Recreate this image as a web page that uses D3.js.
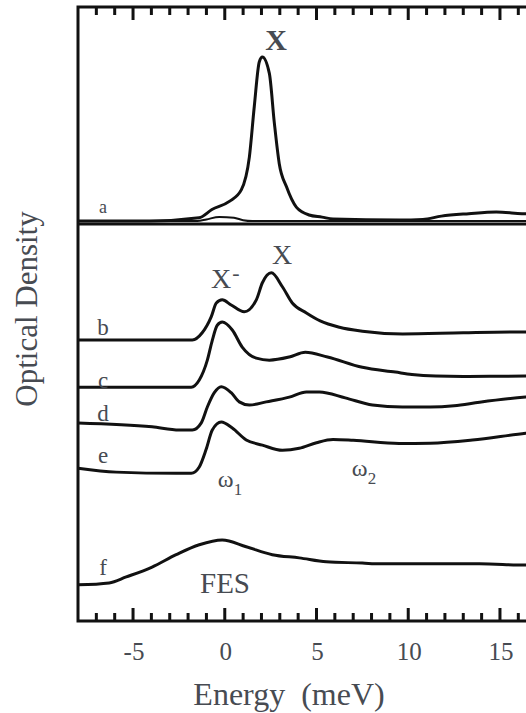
<!DOCTYPE html>
<html>
<head>
<meta charset="utf-8">
<script src="https://cdn.jsdelivr.net/npm/d3@7"></script>
<style>
  body { margin: 0; background: #fff; }
  #chart text { font-family: "Liberation Serif", "DejaVu Serif", serif; fill: #474b52; }
</style>
</head>
<body>
<svg id="chart" width="526" height="713" font-family="Liberation Serif, DejaVu Serif, serif"></svg>
<script>
// energy axis (meV)
var energyTicks = [-5, 0, 5, 10, 15];
var minorTicks = [-7, -6, -4, -3, -2, -1, 1, 2, 3, 4, 6, 7, 8, 9, 11, 12, 13, 14, 16, 17];

// panel a: normalized optical density, [energy, OD]
var specA = [[-8,0],[-4.1,0],[-1.4,0.02],[-0.7,0.07],[0.25,0.12],[0.9,0.19],[1.34,0.39],[1.61,0.70],
  [1.88,0.97],[2.05,1.0],[2.43,0.90],[2.70,0.60],[2.97,0.35],[3.36,0.21],[3.9,0.085],[4.6,0.037],
  [5.3,0.024],[5.9,0.012],[9.5,0.006],[10.8,0.01],[11.8,0.03],[13.3,0.045],[14.8,0.055],[16.2,0.045],[18,0.04]];
// weak reference trace in panel a
var specA2 = [[-8,0],[-1.5,0],[-1.0,0.01],[-0.3,0.025],[0.5,0.02],[1.0,0.005],[1.5,0],[18,0]];

// panels b-f: optical density relative to each trace's own baseline
var specB = [[-8,0],[-1.77,0],[-1.23,0.18],[-0.74,0.58],[-0.46,0.93],[-0.14,1.01],[0.35,0.88],[1.06,0.71],
  [1.72,1.01],[2.05,1.44],[2.54,1.69],[3.14,1.34],[3.68,0.93],[4.45,0.68],[5.2,0.48],[6.25,0.32],
  [7.5,0.22],[9.7,0.15],[13,0.18],[16.4,0.2],[18,0.2]];
var specC = [[-8,0],[-1.83,0],[-1.39,0.18],[-0.95,0.68],[-0.68,1.18],[-0.41,1.56],[-0.14,1.64],[0.41,1.44],
  [0.95,1.01],[1.72,0.73],[2.43,0.68],[3.52,0.76],[4.39,0.88],[5.6,0.76],[7.5,0.50],[9.3,0.38],
  [10.2,0.32],[11.5,0.28],[13,0.27],[16.4,0.28],[18,0.28]];
var specD = [[-8,0],[-3.96,-0.10],[-2.48,-0.18],[-1.77,-0.18],[-1.28,0],[-0.95,0.40],[-0.57,0.76],[-0.19,0.91],
  [0.35,0.76],[0.79,0.53],[1.34,0.45],[2.26,0.53],[3.52,0.65],[4.45,0.78],[5.16,0.78],[6.57,0.63],
  [8.05,0.45],[9.68,0.40],[11.2,0.40],[12.5,0.43],[13.89,0.52],[16.4,0.65],[18,0.7]];
var specE = [[-8,0],[-5.92,-0.10],[-2.65,-0.13],[-1.83,-0.13],[-1.39,0.03],[-1.01,0.48],[-0.68,0.96],[-0.19,1.16],
  [0.41,1.01],[1.17,0.71],[2.05,0.58],[3.14,0.45],[4.06,0.50],[5.0,0.64],[5.9,0.72],[7.0,0.70],[9.5,0.62],
  [11.2,0.63],[13.5,0.71],[16.4,0.88],[18,0.95]];
var specF = [[-8,0],[-6.3,0.05],[-5.37,0.20],[-3.96,0.45],[-2.65,0.76],[-1.39,1.01],[-0.14,1.13],[1.17,0.96],
  [2.59,0.76],[4.06,0.68],[5.54,0.58],[7.5,0.55],[8.43,0.53],[13.89,0.53],[16.4,0.50],[18,0.5]];

var lowerSpectra = [specB, specC, specD, specE, specF];
var lowerOffsets = [7.08, 5.89, 4.99, 3.85, 0.91];
var traceLabels = ["b", "c", "d", "e", "f"];

var svg = d3.select("#chart");

var plotLeft = 78, plotRight = 555, plotTop = 7, plotSplit = 224, plotBottom = 621;

var x = d3.scaleLinear().domain([-8, 18]).range([plotLeft, plotRight]);
var yTop = d3.scaleLinear().domain([-0.018, 1.305]).range([plotSplit, plotTop]);
var yBot = d3.scaleLinear().domain([0, 10]).range([plotBottom, plotSplit]);

var smooth = d3.curveMonotoneX;

// spectra
var lineTop = d3.line().x(function(d){ return x(d[0]); }).y(function(d){ return yTop(d[1]); }).curve(smooth);

svg.append("path").attr("d", lineTop(specA2))
  .attr("fill", "none").attr("stroke", "#111").attr("stroke-width", 2);
svg.append("path").attr("d", lineTop(specA))
  .attr("fill", "none").attr("stroke", "#111").attr("stroke-width", 3);

lowerSpectra.forEach(function(spec, i){
  var off = lowerOffsets[i];
  var line = d3.line().x(function(d){ return x(d[0]); }).y(function(d){ return yBot(d[1] + off); }).curve(smooth);
  svg.append("path").attr("d", line(spec))
    .attr("fill", "none").attr("stroke", "#111").attr("stroke-width", 3);
});

// frame
var frame = d3.path();
frame.moveTo(plotLeft, plotTop - 1.5); frame.lineTo(plotLeft, plotBottom + 1.5);
frame.moveTo(plotLeft, plotTop); frame.lineTo(526, plotTop);
frame.moveTo(plotLeft, plotBottom); frame.lineTo(526, plotBottom);
frame.moveTo(plotLeft, plotSplit); frame.lineTo(526, plotSplit);
svg.append("path").attr("d", frame.toString())
  .attr("fill", "none").attr("stroke", "#111").attr("stroke-width", 3);

// ticks as filled bars, pointing inward: minor every 1 meV, major every 5 meV
var tickSet = minorTicks.map(function(e){ return { e: e, len: 8 }; })
  .concat(energyTicks.map(function(e){ return { e: e, len: 13 }; }));
var tickG = svg.append("g").attr("fill", "#111");
tickG.selectAll("rect.bt").data(tickSet).enter().append("rect").attr("class", "bt")
  .attr("x", function(d){ return x(d.e) - 1.5; })
  .attr("y", function(d){ return plotBottom - d.len; })
  .attr("width", 3)
  .attr("height", function(d){ return d.len; });
tickG.selectAll("rect.tt").data(tickSet).enter().append("rect").attr("class", "tt")
  .attr("x", function(d){ return x(d.e) - 1.5; })
  .attr("y", plotTop)
  .attr("width", 3)
  .attr("height", function(d){ return d.len; });

svg.append("g").selectAll("text").data(energyTicks).enter().append("text")
  .attr("x", function(d){ return x(d) + 1; })
  .attr("y", 660)
  .attr("text-anchor", "middle")
  .attr("font-size", 25)
  .text(function(d){ return d; });

// axis titles
svg.append("text").attr("x", 289).attr("y", 705).attr("text-anchor", "middle")
  .attr("font-size", 32).attr("xml:space", "preserve").text("Energy  (meV)");
svg.append("text").attr("transform", "translate(37,309) rotate(-90)").attr("text-anchor", "middle")
  .attr("font-size", 31).text("Optical Density");

// trace letters
svg.append("text").attr("x", 103).attr("y", 213).attr("text-anchor", "middle").attr("font-size", 18).text("a");
var letterY = [335, 388, 421, 463, 575];
traceLabels.forEach(function(t, i){
  svg.append("text").attr("x", 103).attr("y", letterY[i]).attr("text-anchor", "middle")
    .attr("font-size", 23).text(t);
});

// peak annotations
svg.append("text").attr("x", 276).attr("y", 50).attr("text-anchor", "middle")
  .attr("font-size", 30).attr("font-weight", "bold").text("X");
svg.append("text").attr("x", 221).attr("y", 288).attr("text-anchor", "middle")
  .attr("font-size", 28).text("X");
svg.append("text").attr("x", 236).attr("y", 280).attr("text-anchor", "middle")
  .attr("font-size", 22).text("-");
svg.append("text").attr("x", 282).attr("y", 264).attr("text-anchor", "middle")
  .attr("font-size", 28).text("X");

var w1 = svg.append("text").attr("x", 230).attr("y", 487).attr("text-anchor", "middle").attr("font-size", 24);
w1.append("tspan").text("ω");
w1.append("tspan").attr("dy", 8).attr("font-size", 17).text("1");
var w2 = svg.append("text").attr("x", 364).attr("y", 476).attr("text-anchor", "middle").attr("font-size", 24);
w2.append("tspan").text("ω");
w2.append("tspan").attr("dy", 8).attr("font-size", 17).text("2");

svg.append("text").attr("x", 225).attr("y", 593).attr("text-anchor", "middle")
  .attr("font-size", 29).text("FES");
</script>
</body>
</html>
